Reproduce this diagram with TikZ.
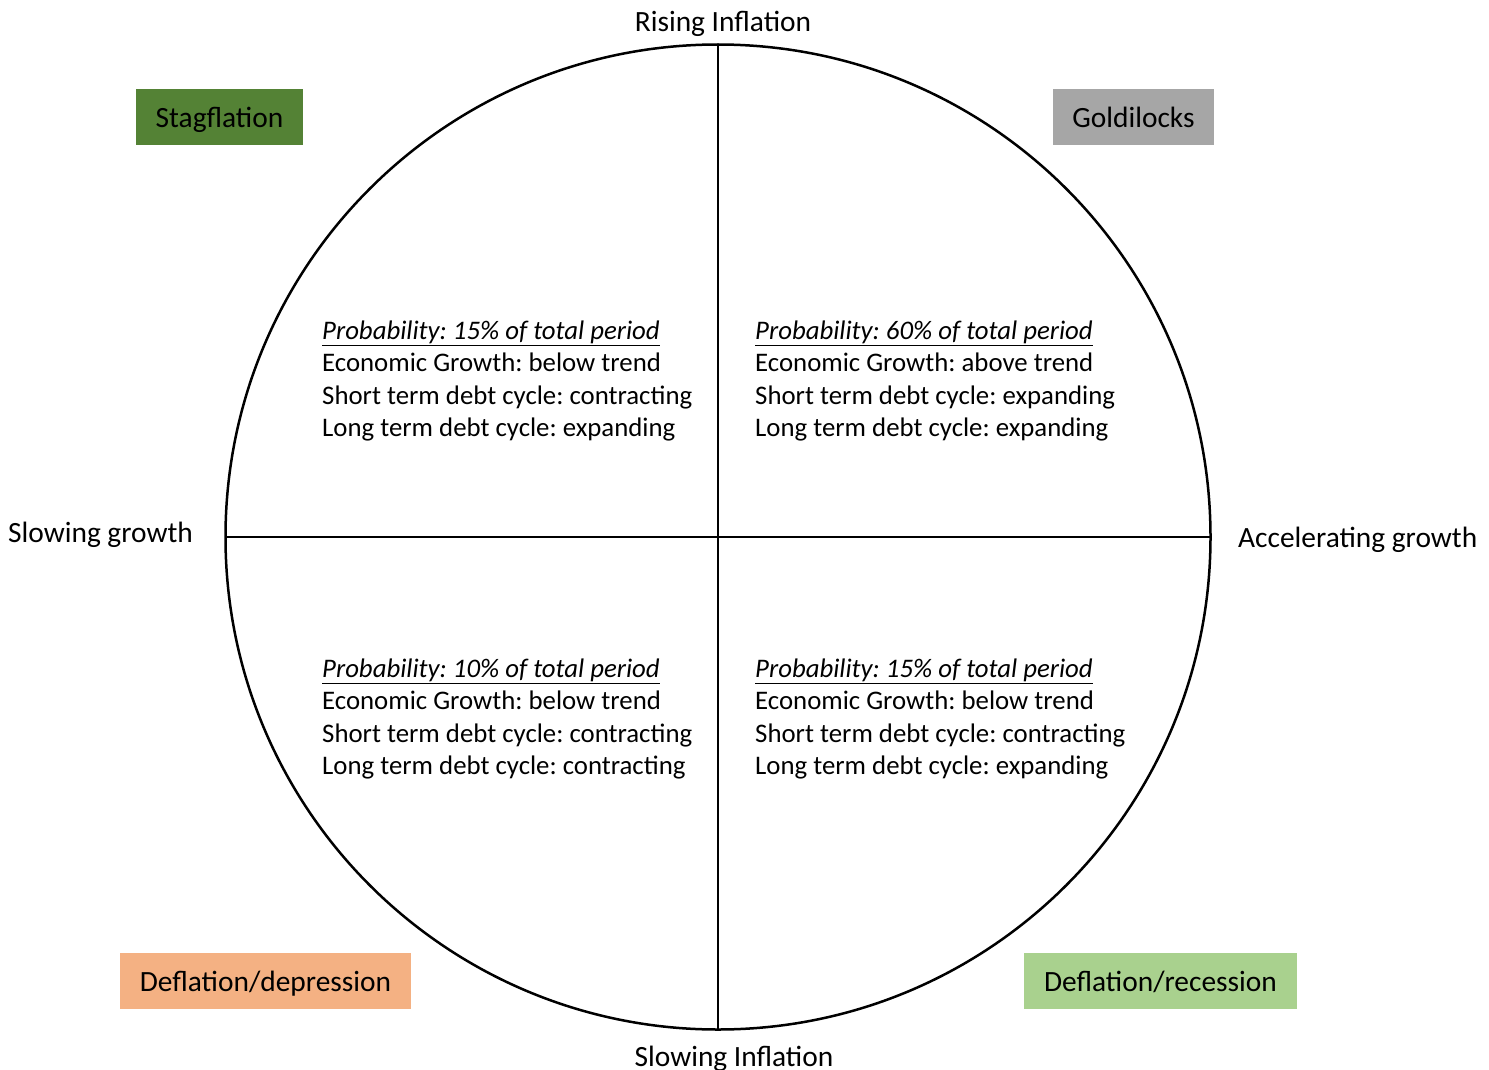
\documentclass[tikz,border=0pt]{standalone}
\usepackage{fontspec}
\setmainfont{Carlito}
\frenchspacing
\begin{document}
\begin{tikzpicture}[x=1pt,y=-1pt,
  axis/.style={line width=2.5pt,black},
  lbl/.style={inner sep=0pt,text height=21pt,text depth=0pt,
    font=\fontsize{29.4}{34}\selectfont},
  regime/.style={lbl,minimum height=56pt},
  quad/.style={inner sep=0pt,align=left,anchor=west,
    font=\fontsize{26.8}{32.5}\selectfont}]
\useasboundingbox (0,0) rectangle (1489,1070);
% circle and axes
\coordinate (c) at (718,537);
\draw[axis] (c) circle[radius=492.5];
\coordinate (top) at (718,44.5);
\coordinate (bot) at (718,1029.5);
\coordinate (lft) at (225.5,537);
\coordinate (rgt) at (1210.5,537);
\draw[axis] (top) -- (bot);
\draw[axis] (lft) -- (rgt);
% axis labels
\node[lbl] (ri) at (723,21) {Rising Inflation};
\node[lbl] (si) at (734,1056) {Slowing Inflation};
\node[lbl,anchor=west] (sg) at (8,532) {Slowing growth};
\node[lbl,anchor=west] (ag) at (1238,537) {Accelerating growth};
% regime boxes
\node[regime,fill={rgb,255:red,84;green,130;blue,53},minimum width=167pt] (stag) at (219.5,117) {Stagflation};
\node[regime,fill={rgb,255:red,166;green,166;blue,166},minimum width=161pt] (gold) at (1133.5,117) {Goldilocks};
\node[regime,fill={rgb,255:red,244;green,177;blue,131},minimum width=291pt] (depr) at (265.5,981) {Deflation/depression};
\node[regime,fill={rgb,255:red,169;green,209;blue,142},minimum width=273pt] (rec) at (1160.5,981) {Deflation/recession};
% quadrant descriptions
\node[quad] (q1) at (322,381) {\underline{\itshape Probability: 15\% of total period}\\
Economic Growth: below trend\\
Short term debt cycle: contracting\\
Long term debt cycle: expanding};
\node[quad] (q2) at (755,381) {\underline{\itshape Probability: 60\% of total period}\\
Economic Growth: above trend\\
Short term debt cycle: expanding\\
Long term debt cycle: expanding};
\node[quad] (q3) at (322,719) {\underline{\itshape Probability: 10\% of total period}\\
Economic Growth: below trend\\
Short term debt cycle: contracting\\
Long term debt cycle: contracting};
\node[quad] (q4) at (755,719) {\underline{\itshape Probability: 15\% of total period}\\
Economic Growth: below trend\\
Short term debt cycle: contracting\\
Long term debt cycle: expanding};
\end{tikzpicture}
\end{document}
